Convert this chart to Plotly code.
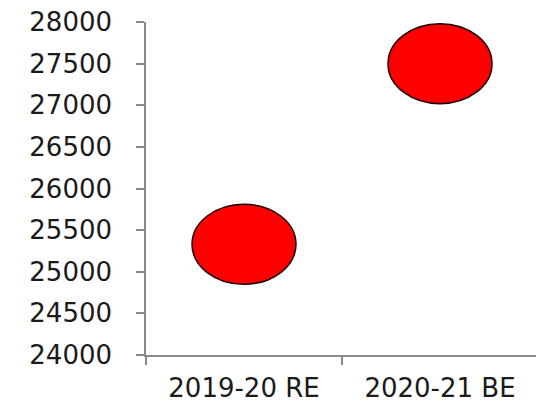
import plotly.graph_objects as go

categories = ["2019-20 RE", "2020-21 BE"]
values = [25330, 27500]
y_ticks = [24000, 24500, 25000, 25500, 26000, 26500, 27000, 27500, 28000]

fig = go.Figure()
fig.add_trace(go.Scatter(
    x=categories, y=values, mode="markers",
    marker=dict(size=1, opacity=0), showlegend=False, hoverinfo="x+y"
))

for c, v in zip(categories, values):
    fig.add_shape(
        type="circle", xref="x", yref="y",
        xsizemode="pixel", ysizemode="pixel",
        xanchor=c, yanchor=v,
        x0=-52, x1=52, y0=-40, y1=40,
        fillcolor="#ff0000", line=dict(color="#1a0000", width=1.5),
        layer="above",
    )

font = dict(family="DejaVu Sans, Liberation Sans, Arial", size=26, color="#1a1a1a")

fig.update_layout(
    width=536, height=402,
    margin=dict(l=138, r=6, t=14, b=55, autoexpand=False),
    paper_bgcolor="white", plot_bgcolor="white",
    showlegend=False,
    xaxis=dict(
        type="category", range=[-0.5, 1.5], automargin=False,
        showline=True, linecolor="#8a8a8a", linewidth=1.5,
        ticks="outside", tickson="boundaries", ticklen=8, tickcolor="#8a8a8a", tickwidth=2,
        showgrid=False, zeroline=False, tickfont=font, ticklabelstandoff=9,
        ticklabeloverflow="allow",
    ),
    yaxis=dict(
        range=[24000, 28000], tickvals=y_ticks, ticktext=[str(t) for t in y_ticks],
        automargin=False,
        showline=True, linecolor="#8a8a8a", linewidth=1.5,
        ticks="outside", ticklen=8, tickcolor="#8a8a8a", tickwidth=1.5,
        showgrid=False, zeroline=False, tickfont=font, ticklabelstandoff=19,
        ticklabeloverflow="allow",
    ),
)

fig.write_html("out.html")
